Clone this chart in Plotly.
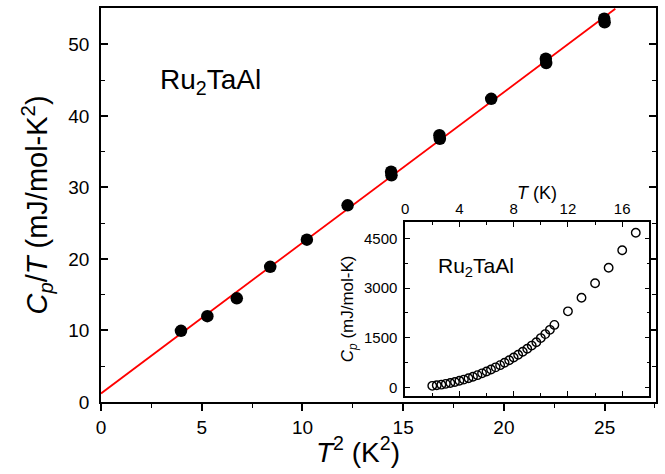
import plotly.graph_objects as go

# Main panel: Cp/T vs T^2
t_squared = [3.97, 5.28, 6.74, 8.40, 10.22, 12.24, 14.40, 14.42, 16.80, 16.82,
             19.37, 22.08, 22.10, 24.98, 25.00]
cp_over_t = [9.95, 12.0, 14.5, 18.9, 22.7, 27.5, 32.2, 31.7, 37.3, 36.8,
             42.4, 48.0, 47.4, 53.6, 53.1]

# Linear fit Cp/T = gamma + beta*T^2
fit_gamma = 1.2
fit_beta = 2.107
fit_x = [0.0, 25.53]
fit_y = [fit_gamma + fit_beta * v for v in fit_x]

# Inset: Cp vs T
inset_t = [2.0, 2.33, 2.67, 3.0, 3.33, 3.67, 4.0, 4.33, 4.67, 5.0, 5.33, 5.67,
           6.0, 6.33, 6.67, 7.0, 7.33, 7.67, 8.0, 8.33, 8.67, 9.0, 9.33, 9.67,
           10.0, 10.33, 10.67, 11.0, 12.0, 13.0, 14.0, 15.0, 16.0, 17.0]
inset_cp = [43, 60, 80, 104, 131, 162, 196, 233, 275, 320, 368, 422,
            478, 538, 603, 671, 743, 820, 900, 984, 1074, 1166, 1262, 1366,
            1490, 1610, 1740, 1890, 2300, 2710, 3150, 3620, 4150, 4680]

main_xticks = [0, 5, 10, 15, 20, 25]
main_yticks = [0, 10, 20, 30, 40, 50]
inset_xticks = [0, 4, 8, 12, 16]
inset_yticks = [0, 1500, 3000, 4500]

FONT = "Liberation Sans, Arial, sans-serif"
PW, PH, PL, PB = 555.0, 395.5, 101.0, 401.5


def px(xp):
    return (xp - PL) / PW


def py(yp):
    return (PB - yp) / PH


fig = go.Figure()
fig.add_trace(go.Scatter(x=fit_x, y=fit_y, mode="lines",
                         line=dict(color="#ff0000", width=1.8),
                         xaxis="x", yaxis="y", showlegend=False))
fig.add_trace(go.Scatter(x=t_squared, y=cp_over_t, mode="markers",
                         marker=dict(color="black", size=12.5, line=dict(width=0)),
                         xaxis="x", yaxis="y", showlegend=False))
fig.add_trace(go.Scatter(x=inset_t, y=inset_cp, mode="markers",
                         marker=dict(symbol="circle-open", color="black", size=8.5,
                                     line=dict(width=1.4)),
                         xaxis="x2", yaxis="y2", showlegend=False))

axis_common = dict(showgrid=False, zeroline=False, linecolor="black",
                   tickcolor="black", showline=True)

fig.update_layout(
    width=665, height=474,
    margin=dict(l=101, r=9, t=6, b=72),
    paper_bgcolor="white", plot_bgcolor="white",
    font=dict(family=FONT, color="black"),
    xaxis=dict(**axis_common, domain=[0, 1], range=[0, 27.55],
               tickvals=main_xticks, ticks="outside", ticklen=7, tickwidth=1.5,
               linewidth=1.5, mirror=True,
               minor=dict(dtick=2.5, tick0=0, ticks="outside", ticklen=4,
                          tickwidth=1.2, tickcolor="black"),
               tickfont=dict(size=19, family=FONT)),
    yaxis=dict(**axis_common, domain=[0, 1], range=[0, 55.1],
               tickvals=main_yticks, ticks="inside", ticklen=7, tickwidth=1.5,
               linewidth=1.5, mirror="ticks",
               minor=dict(dtick=5, tick0=0, ticks="inside", ticklen=4,
                          tickwidth=1.2, tickcolor="black"),
               tickfont=dict(size=19, family=FONT), ticklabelstandoff=6,
               title=dict(text="<i>C</i><sub><i>p</i></sub>/<i>T</i> (mJ/mol-K<sup>2</sup>)",
                          font=dict(size=29, family=FONT), standoff=12)),
    xaxis2=dict(**axis_common, domain=[0.548, 0.988], anchor="y2", side="top",
                range=[0, 18], tickvals=inset_xticks, ticks="inside", ticklen=5,
                tickwidth=1.2, linewidth=1.5, mirror="ticks",
                minor=dict(dtick=2, tick0=0, ticks="inside", ticklen=3,
                           tickwidth=1, tickcolor="black"),
                tickfont=dict(size=15, family=FONT), ticklabelstandoff=0),
    yaxis2=dict(**axis_common, domain=[0.0164, 0.4564], anchor="x2",
                range=[-250, 5000], tickvals=inset_yticks, ticks="inside",
                ticklen=5, tickwidth=1.2, linewidth=1.5, mirror="ticks",
                minor=dict(dtick=750, tick0=0, ticks="inside", ticklen=3,
                           tickwidth=1, tickcolor="black"),
                tickfont=dict(size=15, family=FONT), ticklabelstandoff=3,
                title=dict(text="<i>C</i><sub><i>p</i></sub> (mJ/mol-K)",
                           font=dict(size=17, family=FONT), standoff=6)),
    annotations=[
        dict(text="<i>T</i><sup>2</sup> (K<sup>2</sup>)", xref="paper", yref="paper",
             x=px(358), y=py(470), xanchor="center", yanchor="bottom", showarrow=False,
             font=dict(size=28, family=FONT)),
        dict(text="<i>T</i> (K)", xref="paper", yref="paper",
             x=px(537), y=py(192), xanchor="center", yanchor="middle", showarrow=False,
             font=dict(size=18, family=FONT)),
        dict(text="Ru<sub>2</sub>TaAl", xref="paper", yref="paper",
             x=px(158), y=py(99), xanchor="left",
             yanchor="bottom", showarrow=False, font=dict(size=28, family=FONT)),
        dict(text="Ru<sub>2</sub>TaAl", xref="paper", yref="paper",
             x=px(436), y=py(281), xanchor="left",
             yanchor="bottom", showarrow=False, font=dict(size=21, family=FONT)),
    ],
)

fig.write_html("out.html")
